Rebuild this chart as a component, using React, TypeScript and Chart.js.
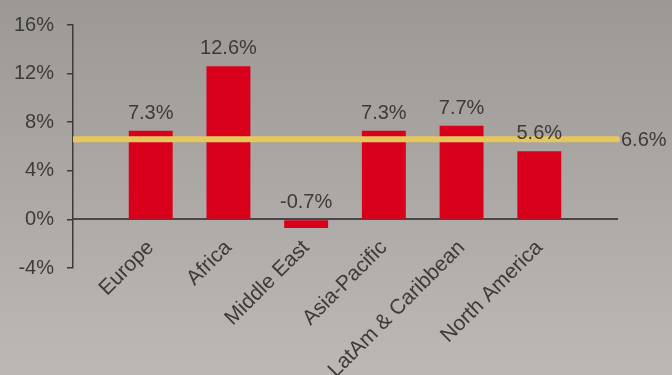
import React, { useEffect, useRef } from 'react';
import { Chart, registerables } from 'chart.js';

Chart.register(...registerables);

const categories = ['Europe', 'Africa', 'Middle East', 'Asia-Pacific', 'LatAm & Caribbean', 'North America'];
const growth = [7.3, 12.6, -0.7, 7.3, 7.7, 5.6];
const average = 6.6;
const yTicks = [-4, 0, 4, 8, 12, 16];

const FONT = '"Liberation Sans", Arial, sans-serif';
const TEXT = '#3d3a38';
const BAR = '#d9001b';
const AVG = '#e6c75e';

export default function App() {
  const ref = useRef<HTMLCanvasElement>(null);

  useEffect(() => {
    if (!ref.current) return;
    const labels = ['', ...categories, ''];
    const barData = [null, ...growth, null];
    const avgData = labels.map(() => average);

    const labelPlugin = {
      id: 'valueLabels',
      afterDatasetsDraw(chart: any) {
        const ctx = chart.ctx;
        const meta = chart.getDatasetMeta(1);
        ctx.save();
        ctx.font = `20px ${FONT}`;
        ctx.fillStyle = TEXT;
        ctx.textAlign = 'center';
        ctx.textBaseline = 'alphabetic';
        meta.data.forEach((el: any, i: number) => {
          const v = barData[i];
          if (v == null) return;
          const { x, y, base } = el.getProps(['x', 'y', 'base'], true);
          const top = Math.min(y, base);
          ctx.fillText(`${v.toFixed(1)}%`, x, top - 12);
        });
        const yS = chart.scales.y;
        ctx.textAlign = 'left';
        ctx.textBaseline = 'middle';
        ctx.fillText(`${average.toFixed(1)}%`, chart.chartArea.right + 4, yS.getPixelForValue(average) + 1);
        ctx.restore();
      },
    };

    const chart = new Chart(ref.current, {
      type: 'bar',
      data: {
        labels,
        datasets: [
          {
            type: 'line',
            data: avgData,
            borderColor: AVG,
            borderWidth: 6,
            borderCapStyle: 'round',
            pointRadius: 0,
            order: 0,
            clip: { left: 0, right: 3, top: 3, bottom: 3 },
          } as any,
          {
            type: 'bar',
            data: barData,
            backgroundColor: BAR,
            borderWidth: 0,
            categoryPercentage: 1,
            barPercentage: 0.565,
            order: 1,
          } as any,
        ],
      },
      options: {
        animation: false,
        responsive: true,
        maintainAspectRatio: false,
        layout: { padding: { left: 0, right: 55, top: 16, bottom: 107 } },
        plugins: { legend: { display: false }, tooltip: { enabled: false } },
        scales: {
          x: {
            type: 'category',
            position: { y: 0 } as any,
            offset: false,
            grid: { display: false },
            border: { display: true, color: '#4a4644', width: 2 },
            ticks: {
              autoSkip: false,
              maxRotation: 45,
              minRotation: 45,
              padding: 8,
              color: TEXT,
              font: { family: FONT, size: 21 },
            },
            afterFit: (s: any) => {
              s.height = 0;
            },
          },
          y: {
            min: -4,
            max: 16,
            grid: {
              display: true,
              drawOnChartArea: false,
              drawTicks: true,
              tickLength: 6,
              color: TEXT,
              lineWidth: 1.5,
            },
            border: { display: true, color: TEXT, width: 1.5 },
            ticks: {
              padding: 13,
              color: TEXT,
              font: { family: FONT, size: 20 },
              callback: (v: any) => `${v}%`,
            },
            afterBuildTicks: (s: any) => {
              s.ticks = yTicks.map((v) => ({ value: v }));
            },
            afterFit: (s: any) => {
              s.width = 73;
            },
          },
        },
      },
      plugins: [labelPlugin],
    });
    return () => chart.destroy();
  }, []);

  return (
    <div
      style={{
        position: 'fixed',
        left: 0,
        top: 0,
        width: 672,
        height: 375,
        background: 'linear-gradient(to bottom, #9b9896 0%, #bbb8b5 100%)',
      }}
    >
      <canvas ref={ref} />
    </div>
  );
}
